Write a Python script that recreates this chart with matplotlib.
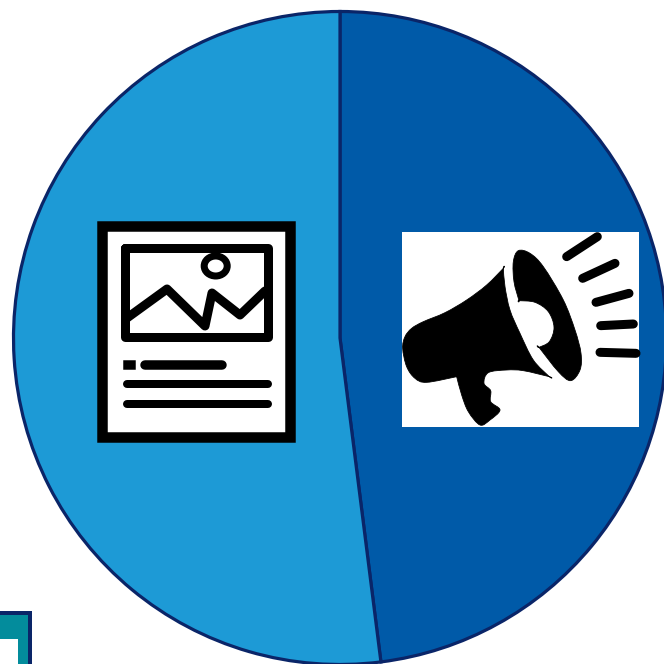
import matplotlib
matplotlib.use("Agg")
import matplotlib.pyplot as plt
from matplotlib.patches import Rectangle, Ellipse, Polygon, PathPatch
from matplotlib.path import Path

# Share of each segment, clockwise from twelve o'clock
segments = ["Promotion", "Content"]
shares = [48, 52]
segment_colors = ["#005AA8", "#1D9AD6"]
EDGE = "#0A2568"

SIZE = 664
fig = plt.figure(figsize=(SIZE / 100, SIZE / 100), dpi=100)
ax = fig.add_axes([0, 0, 1, 1])


def px(points):
    """Convert (x, y-down) canvas points to axes coordinates."""
    return [(x, SIZE - y) for x, y in points]


def lw(pixels):
    return pixels * 72 / 100


def stroke(points, width, z=5, cap="round", join="round", color="black"):
    xs, ys = zip(*px(points))
    ax.plot(xs, ys, color=color, lw=lw(width), solid_capstyle=cap,
            solid_joinstyle=join, zorder=z)


def smooth_blob(points):
    """Closed Catmull-Rom outline; a repeated point gives a sharp corner."""
    pts = px(points)
    n = len(pts)
    verts = [pts[0]]
    codes = [Path.MOVETO]
    for i in range(n):
        p0, p1, p2, p3 = pts[i - 1], pts[i], pts[(i + 1) % n], pts[(i + 2) % n]
        c1 = (p1[0] + (p2[0] - p0[0]) / 6, p1[1] + (p2[1] - p0[1]) / 6)
        c2 = (p2[0] - (p3[0] - p1[0]) / 6, p2[1] - (p3[1] - p1[1]) / 6)
        verts += [c1, c2, p2]
        codes += [Path.CURVE4] * 3
    return Path(verts, codes)


# Pie
ax.pie(shares, colors=segment_colors, startangle=90, counterclock=False,
       center=(340, SIZE - 338), radius=326.5, frame=True,
       wedgeprops=dict(edgecolor=EDGE, linewidth=lw(3.2)))
ax.set_xlim(0, SIZE)
ax.set_ylim(0, SIZE)
ax.set_aspect("equal")
ax.axis("off")

# Corner tile at the lower left
ax.add_patch(Polygon(px([(-5, 613), (30, 613), (30, 670), (18, 670), (18, 639), (-5, 639)]),
                     closed=True, facecolor="#038C9C", edgecolor="none", zorder=2))
stroke([(-5, 613), (30, 613), (30, 670)], 4, z=3, cap="butt", join="miter", color=EDGE)

# Newspaper icon
ax.add_patch(Rectangle((101.5, SIZE - 437), 188.5, 211, facecolor="white", edgecolor="black",
                       linewidth=lw(10.5), joinstyle="miter", zorder=4))
stroke([(125, 248), (268, 248), (268, 337), (125, 337), (125, 248)], 9)
stroke([(127, 318), (167, 289), (205, 326), (212, 293), (240, 315), (265, 291)], 9)
ax.add_patch(Ellipse((215.7, SIZE - 266), 23, 20, facecolor="white", edgecolor="black",
                     linewidth=lw(7), zorder=5))
stroke([(127.5, 365), (131, 365)], 9.5, cap="projecting")
stroke([(145, 365), (222, 365)], 9.5)
stroke([(127, 384), (268, 384)], 8)
stroke([(127, 404), (268, 404)], 8)

# Megaphone icon
ax.add_patch(Rectangle((402, SIZE - 427), 237, 195, facecolor="white", edgecolor="none", zorder=3))


def zoomed(points):
    return [(390 + x / 3, 220 + y / 3) for x, y in points]


horn = zoomed([(340, 145), (340, 145), (290, 195), (230, 240), (165, 278), (100, 305), (65, 325),
               (45, 350), (38, 385), (50, 440), (75, 475), (110, 487), (200, 470), (200, 470),
               (215, 525), (235, 575), (270, 615), (300, 600), (330, 570), (302, 545), (302, 512),
               (282, 490), (295, 458), (350, 450), (400, 452), (478, 470), (478, 470), (430, 420),
               (390, 340), (360, 270), (345, 200)])
bell = zoomed([(385, 92), (420, 100), (460, 140), (520, 240), (555, 330), (573, 400), (570, 450),
               (542, 482), (505, 455), (447, 382), (447, 382), (478, 365), (492, 322), (475, 275),
               (435, 247), (387, 242), (387, 242), (372, 185), (370, 125)])
for outline in (horn, bell):
    ax.add_patch(PathPatch(smooth_blob(outline), facecolor="black", edgecolor="black",
                           linewidth=lw(0.8), zorder=5))
rays = [((530, 110), (622, 50)), ((578, 175), (675, 130)), ((618, 247), (717, 220)),
        ((632, 317), (730, 312)), ((630, 397), (738, 400))]
for a, b in rays:
    stroke(zoomed([a, b]), 9)

fig.savefig("out.png", dpi=100, facecolor="white")
